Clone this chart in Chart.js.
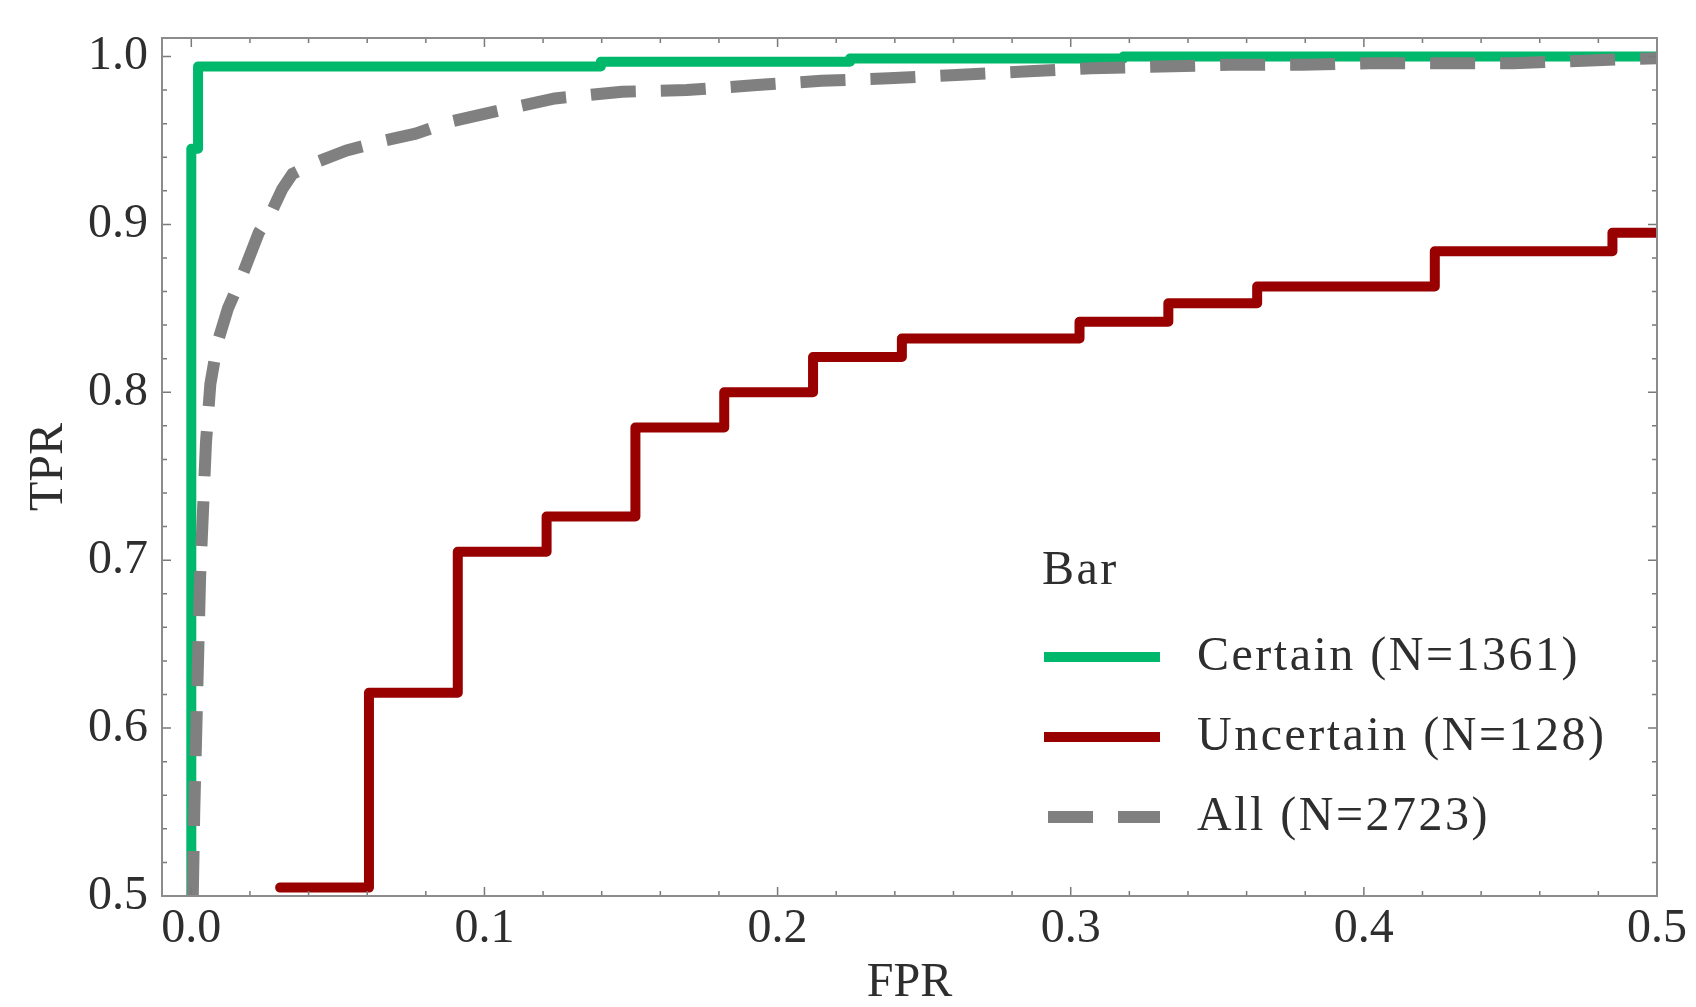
<!DOCTYPE html>
<html>
<head>
<meta charset="utf-8">
<title>ROC - Bar</title>
<script src="https://cdn.jsdelivr.net/npm/chart.js@4.4.0/dist/chart.umd.min.js"></script>
<style>
  html, body { margin: 0; padding: 0; background: #fff; }
  #wrap { width: 1696px; height: 1007px; position: relative; }
</style>
</head>
<body>
<div id="wrap"><canvas id="rocChart"></canvas></div>
<script>
// ROC 곡선 데이터
const certainFpr = [0.0, 0.0, 0.0023, 0.1397, 0.2247, 0.318, 0.5];
const certainTpr = [0.5, 0.945, 0.994, 0.9969, 0.9988, 1.0, 1.0];

const uncertainFpr = [0.0303, 0.0606, 0.0909, 0.1212, 0.1515, 0.1818, 0.2121, 0.2424, 0.3030, 0.3333, 0.3636, 0.4242, 0.4848, 0.5];
const uncertainTpr = [0.505, 0.621, 0.705, 0.726, 0.779, 0.800, 0.821, 0.832, 0.842, 0.853, 0.863, 0.884, 0.895, 0.895];

const allFpr = [0.0005, 0.001, 0.002, 0.003, 0.004, 0.005, 0.0065, 0.009, 0.0125, 0.017, 0.023, 0.027, 0.031, 0.0345,
  0.0425, 0.053, 0.066, 0.0765, 0.088, 0.103, 0.124, 0.147, 0.169, 0.193, 0.215, 0.238, 0.261, 0.284, 0.307,
  0.331, 0.354, 0.379, 0.402, 0.426, 0.451, 0.475, 0.5];
const allTpr = [0.5, 0.55, 0.62, 0.69, 0.73, 0.77, 0.805, 0.83, 0.85, 0.868, 0.895, 0.906, 0.921, 0.93,
  0.937, 0.944, 0.95, 0.954, 0.961, 0.967, 0.975, 0.979, 0.980, 0.983, 0.9855, 0.987, 0.989, 0.991, 0.993,
  0.994, 0.995, 0.995, 0.996, 0.996, 0.996, 0.9975, 0.999];

const seriesLabels = ["Certain (N=1361)", "Uncertain (N=128)", "All (N=2723)"];
const legendTitle = "Bar";

// 축 눈금
const xTickValues = [0, 0.1, 0.2, 0.3, 0.4, 0.5];
const xTickLabels = ["0.0", "0.1", "0.2", "0.3", "0.4", "0.5"];
const yTickValues = [0.5, 0.6, 0.7, 0.8, 0.9, 1.0];
const yTickLabels = ["0.5", "0.6", "0.7", "0.8", "0.9", "1.0"];

const FONT = '"Liberation Serif", "DejaVu Serif", serif';
const textColor = "#2e2e2e";
const frameColor = "#8c8c8c";
const minorStep = 0.02;

function toPoints(xs, ys) {
  return xs.map((x, i) => ({ x: x, y: ys[i] }));
}

// 안쪽 눈금 + 테두리
const frameTicks = {
  id: "frameTicks",
  afterDatasetsDraw(chart) {
    const { ctx, chartArea: a, scales } = chart;
    const xs = scales.x, ys = scales.y;
    ctx.save();
    ctx.strokeStyle = "#7a7a7a";
    ctx.lineWidth = 1.5;
    ctx.beginPath();
    for (let i = 0; i <= 25; i++) {
      const px = xs.getPixelForValue(i * minorStep);
      const len = i % 5 === 0 ? 9 : 5;
      ctx.moveTo(px, a.bottom); ctx.lineTo(px, a.bottom - len);
      ctx.moveTo(px, a.top); ctx.lineTo(px, a.top + len);
    }
    for (let i = 0; i <= 25; i++) {
      const py = ys.getPixelForValue(0.5 + i * minorStep);
      const len = i % 5 === 0 ? 9 : 5;
      ctx.moveTo(a.left, py); ctx.lineTo(a.left + len, py);
      ctx.moveTo(a.right, py); ctx.lineTo(a.right - len, py);
    }
    ctx.stroke();
    ctx.strokeStyle = frameColor;
    ctx.lineWidth = 2;
    ctx.strokeRect(a.left, a.top, a.right - a.left, a.bottom - a.top);
    ctx.restore();
  },
};

// 범례 (차트 영역 안쪽)
const insideLegend = {
  id: "insideLegend",
  afterDraw(chart) {
    const ctx = chart.ctx;
    ctx.save();
    ctx.font = "48px " + FONT;
    ctx.fillStyle = textColor;
    ctx.textBaseline = "middle";
    ctx.textAlign = "left";
    ctx.letterSpacing = "2.5px";
    ctx.fillText(legendTitle, 1042, 571);
    chart.data.datasets.forEach((ds, i) => {
      const yy = 657 + i * 80;
      ctx.strokeStyle = ds.borderColor;
      ctx.lineWidth = ds.borderWidth;
      ctx.lineCap = "butt";
      ctx.setLineDash(ds.borderDash || []);
      ctx.lineDashOffset = ds.borderDash ? -4 : 0;
      ctx.beginPath();
      ctx.moveTo(1044, yy);
      ctx.lineTo(1160, yy);
      ctx.stroke();
      ctx.setLineDash([]);
      ctx.fillText(ds.label, 1197, yy);
    });
    ctx.restore();
  },
};

const ctx = document.getElementById("rocChart").getContext("2d");

new Chart(ctx, {
  type: "scatter",
  data: {
    datasets: [
      {
        label: seriesLabels[0],
        data: toPoints(certainFpr, certainTpr),
        showLine: true,
        stepped: true,
        borderColor: "#00b86b",
        borderWidth: 10,
        borderJoinStyle: "round",
        pointRadius: 0,
        clip: 0,
        order: 1,
      },
      {
        label: seriesLabels[1],
        data: toPoints(uncertainFpr, uncertainTpr),
        showLine: true,
        stepped: true,
        borderColor: "#990000",
        borderWidth: 10,
        borderCapStyle: "round",
        borderJoinStyle: "round",
        pointRadius: 0,
        clip: 0,
        order: 2,
      },
      {
        label: seriesLabels[2],
        data: toPoints(allFpr, allTpr),
        showLine: true,
        borderColor: "#808080",
        borderWidth: 12,
        borderDash: [45, 25],
        pointRadius: 0,
        clip: 0,
        order: 0,
      },
    ],
  },
  options: {
    responsive: true,
    maintainAspectRatio: false,
    animation: false,
    devicePixelRatio: 1,
    layout: { padding: { top: 24, right: 35, left: 0, bottom: 0 } },
    plugins: {
      legend: { display: false },
      tooltip: { enabled: false },
    },
    scales: {
      x: {
        type: "linear",
        min: -0.01,
        max: 0.5,
        afterBuildTicks: (s) => { s.ticks = xTickValues.map((v) => ({ value: v })); },
        afterFit: (s) => { s.height = 111; },
        ticks: {
          callback: (v) => xTickLabels[xTickValues.indexOf(v)],
          font: { family: FONT, size: 48, lineHeight: 1 },
          color: textColor,
          padding: 9,
          maxRotation: 0,
          autoSkip: false,
        },
        grid: { display: false, drawTicks: false, tickLength: 0 },
        border: { display: false },
        title: {
          display: true,
          text: "FPR",
          font: { family: FONT, size: 48, lineHeight: 1 },
          color: textColor,
          padding: { top: 0, bottom: 0 },
        },
      },
      y: {
        type: "linear",
        min: 0.5,
        max: 1.011,
        afterBuildTicks: (s) => { s.ticks = yTickValues.map((v) => ({ value: v })); },
        afterFit: (s) => { s.width = 162; },
        ticks: {
          callback: (v) => yTickLabels[yTickValues.indexOf(v)],
          font: { family: FONT, size: 48, lineHeight: 1 },
          color: textColor,
          padding: 14,
          autoSkip: false,
        },
        grid: { display: false, drawTicks: false, tickLength: 0 },
        border: { display: false },
        title: {
          display: true,
          text: "TPR",
          font: { family: FONT, size: 48, lineHeight: 1 },
          color: textColor,
          padding: { top: 25, bottom: 0 },
        },
      },
    },
  },
  plugins: [frameTicks, insideLegend],
});
</script>
</body>
</html>
